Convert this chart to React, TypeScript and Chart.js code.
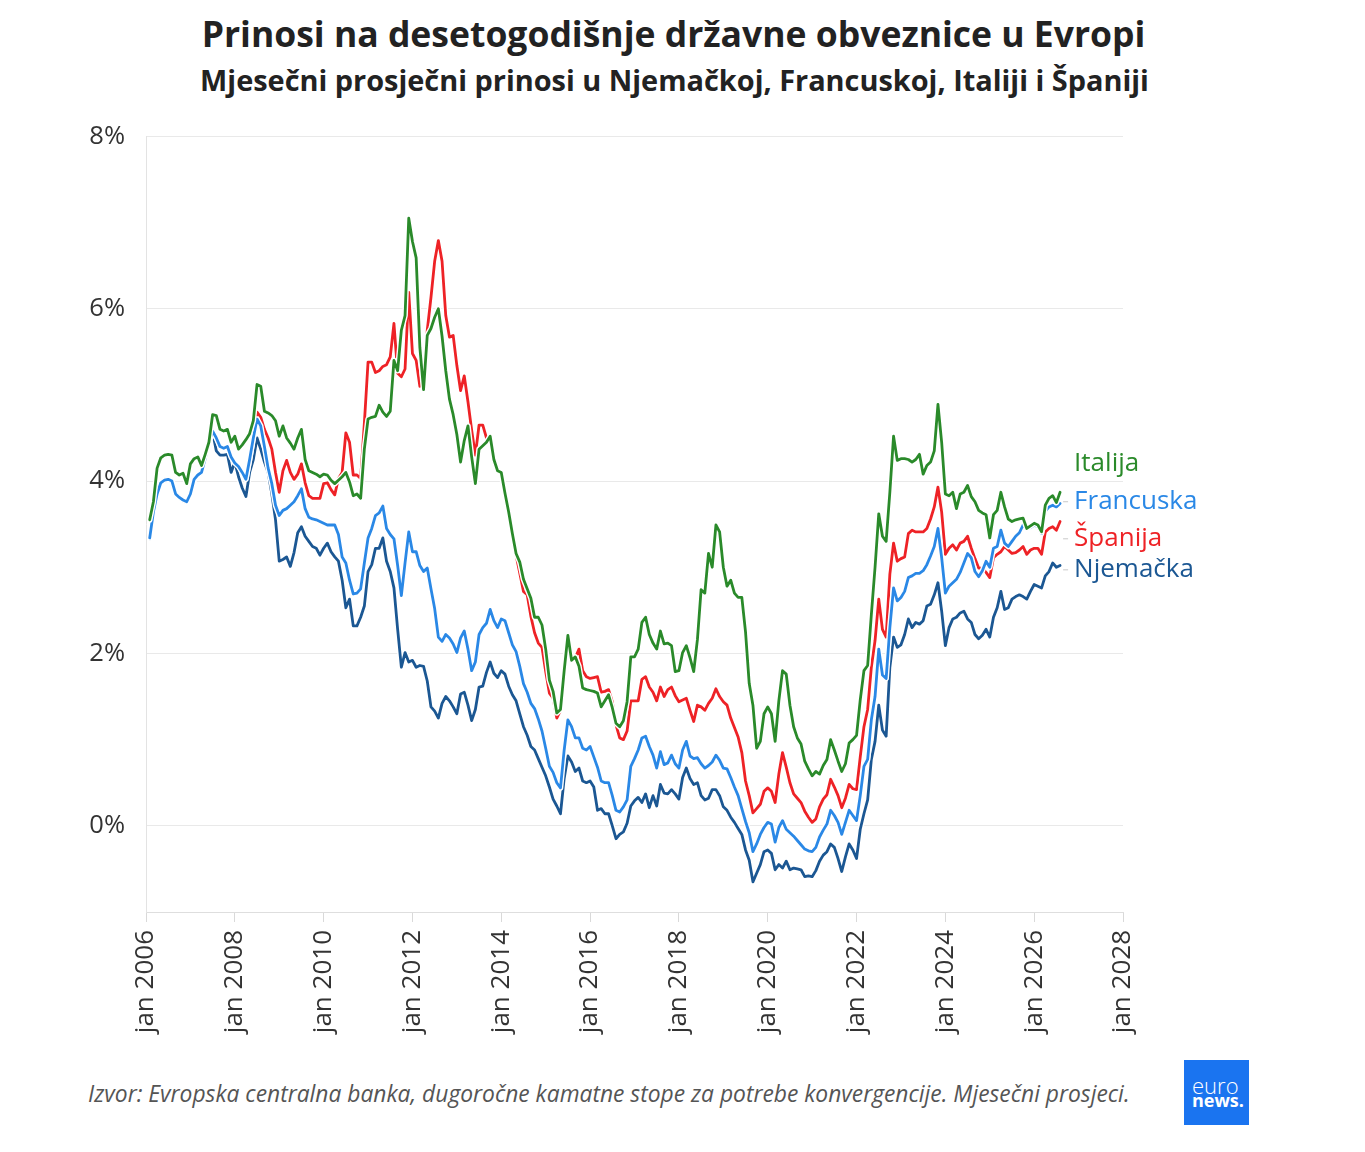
import React, { useEffect, useRef } from "react";
import { Chart, registerables } from "chart.js";

Chart.register(...registerables);

// Monthly averages, Jan 2006 .. Jul 2026 (one value per month)
const START_YEAR = 2006;

const italija = [
  3.55, 3.76, 4.15, 4.27, 4.30, 4.31, 4.30, 4.10, 4.07, 4.09, 3.97, 4.20,
  4.26, 4.28, 4.18, 4.31, 4.45, 4.77, 4.76, 4.60, 4.58, 4.60, 4.45, 4.52,
  4.37, 4.42, 4.48, 4.55, 4.70, 5.12, 5.10, 4.81, 4.79, 4.76, 4.70, 4.52,
  4.64, 4.50, 4.44, 4.37, 4.50, 4.60, 4.25, 4.12, 4.10, 4.08, 4.05, 4.08,
  4.07, 4.01, 3.97, 4.01, 4.05, 4.10, 3.99, 3.83, 3.85, 3.80, 4.37, 4.72,
  4.74, 4.75, 4.88, 4.80, 4.75, 4.81, 5.40, 5.28, 5.75, 5.92, 7.05, 6.78,
  6.59, 5.55, 5.06, 5.69, 5.77, 5.90, 6.00, 5.68, 5.28, 4.95, 4.77, 4.54,
  4.22, 4.47, 4.64, 4.28, 3.97, 4.37, 4.41, 4.45, 4.52, 4.25, 4.12, 4.10,
  3.86, 3.64, 3.39, 3.16, 3.06, 2.86, 2.75, 2.64, 2.42, 2.42, 2.33, 2.05,
  1.69, 1.56, 1.31, 1.35, 1.80, 2.21, 1.92, 1.96, 1.85, 1.60, 1.58, 1.57,
  1.56, 1.54, 1.38, 1.45, 1.52, 1.37, 1.19, 1.15, 1.22, 1.44, 1.96, 1.96,
  2.05, 2.36, 2.42, 2.22, 2.12, 2.05, 2.26, 2.11, 2.12, 2.09, 1.79, 1.80,
  2.01, 2.09, 1.95, 1.79, 2.16, 2.74, 2.70, 3.16, 3.00, 3.49, 3.41, 3.00,
  2.78, 2.85, 2.70, 2.65, 2.65, 2.25, 1.65, 1.40, 0.90, 0.98, 1.30, 1.38,
  1.30, 0.98, 1.45, 1.80, 1.76, 1.40, 1.15, 1.02, 0.95, 0.75, 0.66, 0.58,
  0.63, 0.60, 0.70, 0.77, 1.00, 0.88, 0.75, 0.63, 0.72, 0.96, 1.00, 1.05,
  1.46, 1.80, 1.86, 2.45, 3.00, 3.62, 3.36, 3.30, 3.87, 4.52, 4.24, 4.26,
  4.26, 4.25, 4.22, 4.25, 4.31, 4.08, 4.18, 4.22, 4.35, 4.89, 4.45, 3.85,
  3.83, 3.87, 3.68, 3.85, 3.87, 3.95, 3.82, 3.76, 3.66, 3.63, 3.61, 3.34,
  3.61, 3.66, 3.87, 3.70, 3.56, 3.53, 3.55, 3.56, 3.57, 3.45, 3.48, 3.51,
  3.49, 3.41, 3.72, 3.80, 3.83, 3.75, 3.87,
];

const francuska = [
  3.34, 3.64, 3.85, 3.98, 4.01, 4.02, 4.00, 3.85, 3.81, 3.78, 3.76, 3.85,
  4.02, 4.07, 4.10, 4.26, 4.45, 4.58, 4.50, 4.40, 4.38, 4.40, 4.28, 4.21,
  4.17, 4.10, 4.02, 4.25, 4.50, 4.72, 4.64, 4.40, 4.15, 3.97, 3.72, 3.60,
  3.66, 3.68, 3.72, 3.76, 3.83, 3.91, 3.68, 3.58, 3.56, 3.55, 3.53, 3.51,
  3.49, 3.49, 3.49, 3.38, 3.12, 3.05, 2.85, 2.69, 2.70, 2.75, 3.05, 3.34,
  3.45, 3.60, 3.63, 3.71, 3.45, 3.38, 3.33, 3.02, 2.67, 3.05, 3.41, 3.18,
  3.18, 3.02, 2.95, 2.99, 2.75, 2.52, 2.19, 2.14, 2.22, 2.18, 2.11, 2.01,
  2.18, 2.26, 2.05, 1.80, 1.90, 2.22, 2.30, 2.35, 2.51, 2.38, 2.30, 2.40,
  2.38, 2.24, 2.10, 2.02, 1.85, 1.65, 1.55, 1.42, 1.36, 1.24, 1.10, 0.90,
  0.69, 0.62, 0.50, 0.44, 0.88, 1.23, 1.15, 1.02, 1.02, 0.90, 0.88, 0.92,
  0.80, 0.68, 0.52, 0.50, 0.50, 0.35, 0.18, 0.16, 0.22, 0.30, 0.69, 0.78,
  0.88, 1.02, 1.04, 0.92, 0.82, 0.67, 0.86, 0.71, 0.73, 0.82, 0.72, 0.67,
  0.88, 0.98, 0.81, 0.78, 0.79, 0.72, 0.67, 0.70, 0.74, 0.82, 0.76, 0.67,
  0.66, 0.56, 0.45, 0.35, 0.20, 0.05, -0.08, -0.30, -0.21, -0.10, -0.02, 0.04,
  0.02, -0.19, -0.02, 0.06, -0.04, -0.08, -0.12, -0.17, -0.22, -0.27, -0.29, -0.30,
  -0.25, -0.13, -0.05, 0.02, 0.18, 0.12, 0.04, -0.10, 0.04, 0.18, 0.12, 0.06,
  0.35, 0.69, 0.77, 1.23, 1.50, 2.05, 1.75, 1.71, 2.30, 2.76, 2.61, 2.65,
  2.72, 2.88, 2.90, 2.93, 2.93, 2.96, 3.03, 3.13, 3.24, 3.45, 3.11, 2.70,
  2.78, 2.82, 2.86, 2.94, 3.05, 3.16, 3.11, 2.95, 2.89, 2.96, 3.07, 3.00,
  3.22, 3.24, 3.43, 3.28, 3.24, 3.30, 3.36, 3.40, 3.49, 3.44, 3.46, 3.49,
  3.47, 3.39, 3.65, 3.70, 3.72, 3.70, 3.74,
];

const spanija = [
  3.35, 3.65, 3.86, 3.99, 4.02, 4.03, 4.01, 3.86, 3.82, 3.79, 3.77, 3.86,
  4.03, 4.08, 4.11, 4.27, 4.46, 4.59, 4.51, 4.41, 4.39, 4.41, 4.29, 4.22,
  4.18, 4.11, 4.03, 4.26, 4.51, 4.80, 4.74, 4.60, 4.50, 4.37, 4.10, 3.87,
  4.12, 4.24, 4.10, 4.02, 4.08, 4.20, 3.98, 3.83, 3.80, 3.80, 3.80, 3.97,
  3.98, 3.90, 3.84, 4.03, 4.10, 4.56, 4.45, 4.07, 4.07, 4.03, 4.67, 5.38,
  5.38, 5.26, 5.28, 5.33, 5.35, 5.44, 5.83, 5.25, 5.21, 5.30, 6.19, 5.48,
  5.40, 5.10, 5.17, 5.75, 6.13, 6.55, 6.79, 6.55, 5.92, 5.67, 5.69, 5.34,
  5.05, 5.22, 4.92, 4.59, 4.30, 4.65, 4.65, 4.50, 4.51, 4.24, 4.11, 4.09,
  3.84, 3.62, 3.37, 3.14, 2.93, 2.72, 2.68, 2.43, 2.24, 2.12, 2.07, 1.79,
  1.54, 1.48, 1.25, 1.34, 1.79, 2.20, 1.91, 1.95, 2.05, 1.80, 1.73, 1.71,
  1.72, 1.73, 1.55, 1.56, 1.58, 1.44, 1.17, 1.02, 1.00, 1.10, 1.45, 1.45,
  1.45, 1.70, 1.73, 1.61, 1.55, 1.45, 1.61, 1.50, 1.58, 1.61, 1.51, 1.44,
  1.46, 1.48, 1.34, 1.21, 1.40, 1.38, 1.34, 1.42, 1.48, 1.59, 1.50, 1.44,
  1.40, 1.25, 1.14, 1.03, 0.85, 0.52, 0.35, 0.15, 0.20, 0.25, 0.40, 0.44,
  0.40, 0.27, 0.60, 0.85, 0.68, 0.50, 0.37, 0.32, 0.27, 0.17, 0.10, 0.04,
  0.08, 0.22, 0.31, 0.36, 0.54, 0.45, 0.35, 0.21, 0.32, 0.48, 0.43, 0.42,
  0.80, 1.15, 1.35, 1.84, 2.15, 2.63, 2.28, 2.19, 2.92, 3.28, 3.07, 3.10,
  3.12, 3.39, 3.43, 3.41, 3.41, 3.41, 3.45, 3.56, 3.70, 3.93, 3.64, 3.15,
  3.22, 3.26, 3.20, 3.28, 3.30, 3.36, 3.22, 3.10, 2.99, 2.99, 2.94, 2.88,
  3.11, 3.15, 3.18, 3.24, 3.20, 3.16, 3.17, 3.20, 3.24, 3.15, 3.20, 3.22,
  3.22, 3.15, 3.41, 3.45, 3.47, 3.43, 3.53,
];

const njemacka = [
  3.33, 3.63, 3.84, 3.97, 4.00, 4.01, 3.99, 3.84, 3.80, 3.77, 3.75, 3.84,
  4.01, 4.06, 4.09, 4.25, 4.44, 4.57, 4.35, 4.30, 4.30, 4.31, 4.10, 4.22,
  4.05, 3.92, 3.82, 4.10, 4.25, 4.50, 4.37, 4.22, 4.10, 3.85, 3.55, 3.07,
  3.09, 3.12, 3.01, 3.17, 3.40, 3.47, 3.36, 3.30, 3.24, 3.22, 3.14, 3.22,
  3.28, 3.18, 3.12, 3.07, 2.85, 2.53, 2.63, 2.32, 2.32, 2.42, 2.55, 2.95,
  3.03, 3.22, 3.22, 3.34, 3.07, 2.95, 2.76, 2.28, 1.84, 2.01, 1.90, 1.92,
  1.84, 1.86, 1.85, 1.68, 1.38, 1.33, 1.25, 1.42, 1.50, 1.45, 1.38, 1.30,
  1.53, 1.55, 1.40, 1.22, 1.35, 1.61, 1.62, 1.78, 1.90, 1.77, 1.72, 1.80,
  1.76, 1.62, 1.52, 1.45, 1.30, 1.15, 1.05, 0.92, 0.88, 0.78, 0.68, 0.58,
  0.45, 0.31, 0.23, 0.14, 0.55, 0.81, 0.74, 0.63, 0.67, 0.52, 0.50, 0.52,
  0.45, 0.18, 0.20, 0.14, 0.14, 0.00, -0.15, -0.10, -0.07, 0.03, 0.23, 0.29,
  0.33, 0.27, 0.37, 0.21, 0.35, 0.23, 0.48, 0.38, 0.37, 0.42, 0.37, 0.31,
  0.56, 0.67, 0.55, 0.48, 0.50, 0.35, 0.30, 0.32, 0.42, 0.42, 0.35, 0.22,
  0.18, 0.10, 0.04, -0.03, -0.10, -0.28, -0.40, -0.65, -0.55, -0.45, -0.30, -0.28,
  -0.32, -0.51, -0.45, -0.49, -0.41, -0.51, -0.49, -0.50, -0.51, -0.59, -0.58, -0.59,
  -0.52, -0.41, -0.34, -0.30, -0.21, -0.25, -0.38, -0.53, -0.36, -0.21, -0.28, -0.38,
  -0.04, 0.14, 0.30, 0.77, 0.98, 1.40, 1.11, 1.04, 1.84, 2.19, 2.07, 2.10,
  2.22, 2.40, 2.30, 2.36, 2.34, 2.38, 2.55, 2.57, 2.68, 2.82, 2.49, 2.09,
  2.30, 2.40, 2.42, 2.47, 2.49, 2.40, 2.36, 2.22, 2.17, 2.21, 2.28, 2.19,
  2.42, 2.53, 2.72, 2.51, 2.53, 2.63, 2.66, 2.68, 2.66, 2.63, 2.72, 2.80,
  2.78, 2.76, 2.90, 2.95, 3.05, 3.00, 3.02,
];

// month categories (decimal year at the end of each month)
const months = italija.map((_, i) => START_YEAR + (i + 1) / 12);

const xTickYears = [2006, 2008, 2010, 2012, 2014, 2016, 2018, 2020, 2022, 2024, 2026, 2028];
const yTickValues = [0, 2, 4, 6, 8];

const seriesNames = ["Italija", "Francuska", "Španija", "Njemačka"];
const seriesValues = [italija, francuska, spanija, njemacka];
const seriesColors = ["#2a8a2a", "#2a88e6", "#ee2226", "#1b5793"];
// label anchor (in % units on the y axis) for the direct labels at line ends
const labelAnchors = [4.2, 3.76, 3.33, 2.97];
const leaderLines = [false, true, true, true];

const FONT = '"Open Sans", "Noto Sans", sans-serif';

const endLabelsPlugin = {
  id: "endLabels",
  afterDatasetsDraw(chart: any) {
    const { ctx, scales } = chart;
    const xs = scales.x;
    const ys = scales.y;
    const endX = xs.getPixelForValue(months[months.length - 1]);
    ctx.save();
    ctx.font = `26px ${FONT}`;
    ctx.textBaseline = "middle";
    ctx.textAlign = "left";
    seriesNames.forEach((name, i) => {
      const yy = ys.getPixelForValue(labelAnchors[i]);
      if (leaderLines[i]) {
        ctx.strokeStyle = "#c9c9c9";
        ctx.lineWidth = 1;
        ctx.beginPath();
        ctx.moveTo(endX + 3, yy);
        ctx.lineTo(endX + 8, yy);
        ctx.stroke();
      }
      ctx.fillStyle = seriesColors[i];
      ctx.fillText(name, endX + 14, yy);
    });
    ctx.restore();
  },
};

function LineChart() {
  const ref = useRef<HTMLCanvasElement | null>(null);
  useEffect(() => {
    if (!ref.current) return;
    const datasets: any[] = [];
    seriesNames.forEach((name, i) => {
      const pts = seriesValues[i].map((v, k) => ({ x: months[k], y: v }));
      datasets.push({
        label: name,
        data: pts,
        borderColor: seriesColors[i],
        borderWidth: 2.8,
        pointRadius: 0,
        tension: 0,
        fill: false,
        borderJoinStyle: "round",
        borderCapStyle: "round",
      });
      datasets.push({
        label: name + " (outline)",
        data: pts,
        borderColor: "#ffffff",
        borderWidth: 5.6,
        pointRadius: 0,
        tension: 0,
        fill: false,
        borderJoinStyle: "round",
        borderCapStyle: "round",
      });
    });

    const chart = new Chart(ref.current, {
      type: "line",
      data: { datasets },
      plugins: [endLabelsPlugin],
      options: {
        animation: false,
        responsive: false,
        maintainAspectRatio: false,
        parsing: false as any,
        normalized: true,
        layout: { padding: { left: 0, top: 31, right: 242, bottom: 0 } },
        plugins: {
          legend: { display: false },
          tooltip: { enabled: false },
          title: { display: false },
        },
        scales: {
          x: {
            type: "linear",
            min: 2006,
            max: 2028,
            afterBuildTicks: (axis: any) => {
              axis.ticks = xTickYears.map((v) => ({ value: v }));
            },
            afterFit: (axis: any) => {
              axis.height = 138;
            },
            grid: {
              drawOnChartArea: false,
              drawTicks: true,
              tickLength: 10,
              color: "#d9d9d9",
              lineWidth: 1,
            },
            border: { display: true, color: "#dedede", width: 1 },
            ticks: {
              autoSkip: false,
              maxRotation: 90,
              minRotation: 90,
              padding: 8,
              color: "#333333",
              font: { family: FONT, size: 26 },
              callback: (v: any) => "jan " + v,
            },
          },
          y: {
            type: "linear",
            min: -1,
            max: 8,
            afterBuildTicks: (axis: any) => {
              axis.ticks = yTickValues.map((v) => ({ value: v }));
            },
            afterFit: (axis: any) => {
              axis.width = 146;
            },
            grid: { color: "#e9e9e9", lineWidth: 1, drawTicks: false },
            border: { display: true, color: "#e3e3e3", width: 1 },
            ticks: {
              padding: 21,
              color: "#333333",
              font: { family: FONT, size: 25.5 },
              callback: (v: any) => v + "%",
            },
          },
        },
      },
    });
    return () => chart.destroy();
  }, []);
  return (
    <canvas
      ref={ref}
      width={1365}
      height={950}
      style={{ position: "absolute", left: 0, top: 100, width: 1365, height: 950 }}
    />
  );
}

export default function App() {
  return (
    <div style={{ fontFamily: FONT }}>
      <div
        style={{
          position: "absolute",
          left: 0,
          top: 15.5,
          width: 1347,
          textAlign: "center",
          fontSize: 35.5,
          lineHeight: "35.5px",
          fontWeight: 700,
          color: "#222",
          whiteSpace: "nowrap",
        }}
      >
        Prinosi na desetogodišnje državne obveznice u Evropi
      </div>
      <div
        style={{
          position: "absolute",
          left: 0,
          top: 66,
          width: 1349,
          textAlign: "center",
          fontSize: 28.9,
          lineHeight: "28.9px",
          fontWeight: 700,
          color: "#222",
          whiteSpace: "nowrap",
        }}
      >
        Mjesečni prosječni prinosi u Njemačkoj, Francuskoj, Italiji i Španiji
      </div>
      <LineChart />
      <div
        style={{
          position: "absolute",
          left: 88,
          top: 1083,
          fontSize: 22.8,
          lineHeight: "22.8px",
          fontStyle: "italic",
          color: "#555",
          whiteSpace: "nowrap",
        }}
      >
        Izvor: Evropska centralna banka, dugoročne kamatne stope za potrebe konvergencije. Mjesečni prosjeci.
      </div>
      <div
        style={{
          position: "absolute",
          left: 1184,
          top: 1060,
          width: 65,
          height: 65,
          background: "#1a74f0",
          color: "#fff",
        }}
      >
        <div
          style={{
            position: "absolute",
            left: 8,
            top: 13.5,
            fontSize: 22,
            lineHeight: "22px",
            fontWeight: 300,
            whiteSpace: "nowrap",
          }}
        >
          euro
        </div>
        <div
          style={{
            position: "absolute",
            left: 8,
            top: 31,
            fontSize: 18,
            lineHeight: "18px",
            fontWeight: 700,
            whiteSpace: "nowrap",
          }}
        >
          news.
        </div>
      </div>
    </div>
  );
}
